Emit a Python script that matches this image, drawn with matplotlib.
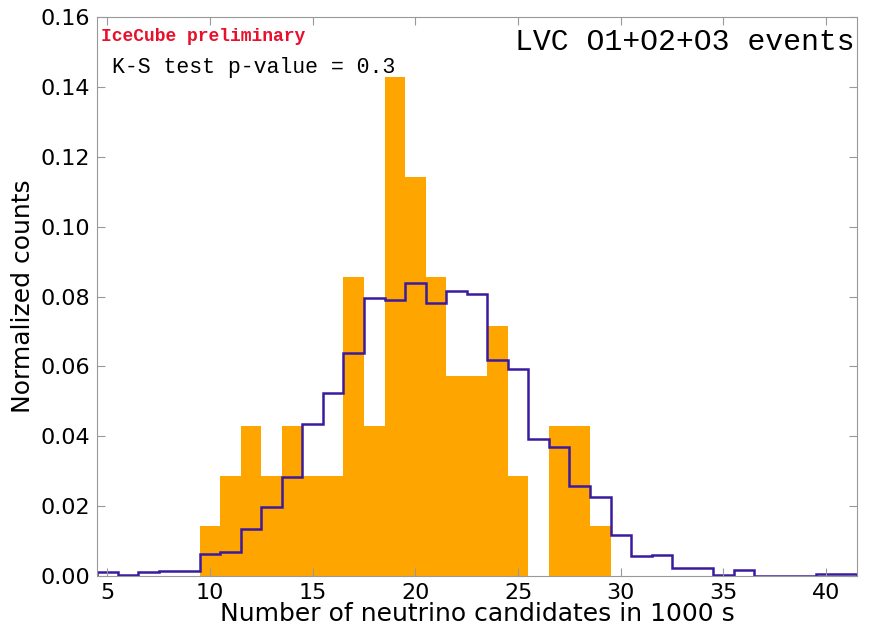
import numpy as np
import matplotlib
matplotlib.use("Agg")
import matplotlib.pyplot as plt

# observed neutrino-candidate counts (orange), normalized, bins of width 1
obs_edges = np.arange(4.5, 37.0, 1.0)
obs_counts = [0, 0, 0, 0, 0,
              1, 2, 3, 2, 3, 2, 2, 6, 3, 10, 8, 6, 4, 4, 5, 2, 0, 3, 3, 1,
              0, 0, 0, 0, 0, 0, 0]
obs_total = 70

# background expectation (purple step line)
bkg_edges = np.arange(4.5, 42.0, 1.0)
bkg_vals = [0.0010, 0.0003, 0.0010, 0.0015, 0.0015, 0.0063, 0.0070, 0.0135,
            0.0198, 0.0283, 0.0435, 0.0524, 0.0638, 0.0797, 0.0790, 0.0840,
            0.0782, 0.0816, 0.0806, 0.0618, 0.0592, 0.0391, 0.0368, 0.0258,
            0.0225, 0.0116, 0.0057, 0.0060, 0.0024, 0.0024, 0.0003, 0.0016,
            0.0, 0.0, 0.0, 0.0005, 0.0005]

obs_norm = np.array(obs_counts) / obs_total

fig = plt.figure(figsize=(8.69, 6.26), dpi=100)
ax = fig.add_axes([0.1116, 0.0799, 0.8746, 0.8929])

ax.stairs(obs_norm, obs_edges, fill=True, color="#ffa500", lw=1)
ax.stairs(bkg_vals, bkg_edges, color="#3a1a9e", lw=1.8)

ax.set_xlim(4.5, 41.5)
ax.set_ylim(0, 0.16)
ax.set_xticks(np.arange(5, 41, 5))
ax.set_yticks(np.arange(0, 0.161, 0.02))
ax.yaxis.set_major_formatter(matplotlib.ticker.FormatStrFormatter("%.2f"))
ax.tick_params(direction="in", top=True, right=True, length=6,
               color="#999999", labelsize=16, pad=5)
for s in ax.spines.values():
    s.set_color("#999999")

ax.set_xlabel("Number of neutrino candidates in 1000 s", fontsize=18, labelpad=-1)
ax.set_ylabel("Normalized counts", fontsize=18, labelpad=4)

mono = "Liberation Mono"
ax.text(0.005, 0.965, "IceCube preliminary", transform=ax.transAxes,
        family=mono, fontsize=13, fontweight="bold", color="#e8102a",
        va="center", ha="left")
ax.text(0.02, 0.91, "K-S test p-value = 0.3", transform=ax.transAxes,
        family=mono, fontsize=15.5, va="center", ha="left")
ax.text(0.997, 0.955, "LVC O1+O2+O3 events", transform=ax.transAxes,
        family=mono, fontsize=21.5, va="center", ha="right")

fig.savefig("out.png", dpi=100)
